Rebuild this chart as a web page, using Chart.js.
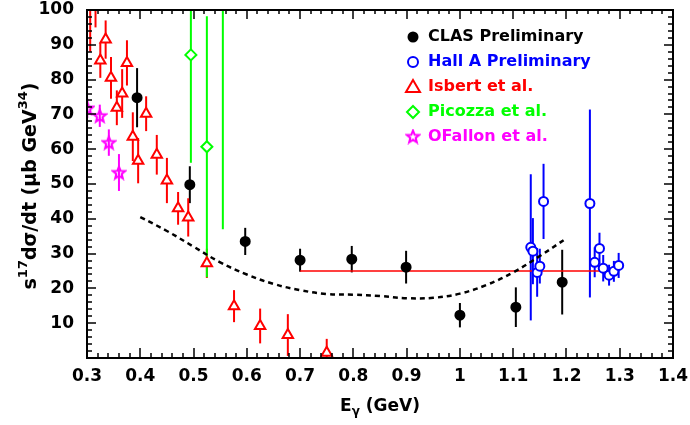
<!DOCTYPE html>
<html>
<head>
<meta charset="utf-8">
<script src="https://cdn.jsdelivr.net/npm/chart.js@4"></script>
<style>
  html, body { margin: 0; padding: 0; background: #fff; }
  #wrap { width: 690px; height: 425px; position: relative; }
</style>
</head>
<body>
<div id="wrap"><canvas id="chart"></canvas></div>
<script>
// values
const clasE = [0.394, 0.493, 0.597, 0.700, 0.797, 0.899, 1.000, 1.105, 1.192];
const clasY = [74.8, 49.8, 33.5, 28.1, 28.4, 26.1, 12.3, 14.6, 21.8];
const clasErr = [8.5, 5.3, 3.9, 3.3, 3.8, 4.7, 3.5, 5.7, 9.3];

const hallE = [1.133, 1.137, 1.145, 1.150, 1.157, 1.244, 1.253, 1.262, 1.269, 1.280, 1.289, 1.298];
const hallY = [31.8, 30.7, 24.6, 26.4, 45.0, 44.4, 27.5, 31.5, 25.8, 23.8, 24.9, 26.6];
const hallErr = [21, 9.5, 7, 5, 10.8, 27, 4.3, 4.5, 3.8, 3, 3, 3.6];

const isbE = [0.306, 0.316, 0.325, 0.335, 0.345, 0.356, 0.366, 0.375, 0.386, 0.396, 0.411, 0.431, 0.450, 0.471, 0.490, 0.525, 0.576, 0.625, 0.677, 0.750];
const isbY = [104, 108, 85.5, 91.5, 80.5, 71.9, 76, 84.8, 63.6, 56.7, 70.2, 58.4, 51, 43, 40.4, 27.2, 14.9, 9.2, 6.6, 1.5];
const isbErr = [16, 13, 5, 5.5, 6, 5, 7, 6.5, 7, 6.5, 5, 5.7, 6.5, 4.7, 5.5, 4.2, 4.6, 5, 6, 4];

const picE = [0.495, 0.525, 0.555];
const picY = [87.1, 60.7, 112];
const picErr = [31, 37.5, 75];

const ofaE = [0.3005, 0.324, 0.341, 0.360];
const ofaY = [71.8, 69.6, 61.9, 53.3];
const ofaErr = [2.8, 3.2, 3.8, 5.3];

const curveE = [0.40, 0.45, 0.50, 0.55, 0.60, 0.65, 0.70, 0.75, 0.80, 0.85, 0.90, 0.95, 1.00, 1.05, 1.10, 1.15, 1.20];
const curveY = [40.5, 36.5, 32, 27.5, 24, 21.3, 19.5, 18.4, 18.2, 17.8, 17.2, 17.3, 18.5, 21, 24.6, 29.3, 34.4];

const fitE = [0.70, 1.29];
const fitY = [25, 25];

const xMin = 0.3, xMax = 1.4, xStep = 0.1, xMinor = 0.02;
const yMin = 0, yMax = 100, yStep = 10, yMinor = 2;

const FONT = '"DejaVu Sans", sans-serif';
const pts = (xs, ys) => xs.map((x, i) => ({ x, y: ys[i] }));

// 5-point star marker
function makeStar(color) {
  const c = document.createElement('canvas');
  c.width = 16; c.height = 16;
  const g = c.getContext('2d');
  g.strokeStyle = color; g.lineWidth = 2; g.lineJoin = 'miter';
  g.beginPath();
  for (let k = 0; k < 10; k++) {
    const r = k % 2 === 0 ? 6.5 : 2.8;
    const a = -Math.PI / 2 + k * Math.PI / 5;
    const px = 8 + r * Math.cos(a), py = 8.5 + r * Math.sin(a);
    k === 0 ? g.moveTo(px, py) : g.lineTo(px, py);
  }
  g.closePath(); g.stroke();
  return c;
}
const starImg = makeStar('#ff00ff');

const errBars = {
  id: 'errBars',
  beforeDatasetsDraw(chart) {
    const { ctx, chartArea: a, scales: { x, y } } = chart;
    ctx.save();
    ctx.beginPath(); ctx.rect(a.left, a.top, a.right - a.left, a.bottom - a.top); ctx.clip();
    chart.data.datasets.forEach(ds => {
      if (!ds.err) return;
      ctx.strokeStyle = ds.borderColor; ctx.lineWidth = 2;
      ds.data.forEach((p, i) => {
        const px = x.getPixelForValue(p.x);
        ctx.beginPath();
        ctx.moveTo(px, y.getPixelForValue(p.y - ds.err[i]));
        ctx.lineTo(px, y.getPixelForValue(p.y + ds.err[i]));
        ctx.stroke();
      });
    });
    ctx.restore();
  }
};

function marker(ctx, kind, cx, cy, color) {
  ctx.save();
  ctx.strokeStyle = color; ctx.fillStyle = color; ctx.lineWidth = 2;
  ctx.beginPath();
  if (kind === 'dot') { ctx.arc(cx, cy, 5.5, 0, Math.PI * 2); ctx.fill(); }
  else if (kind === 'ring') { ctx.arc(cx, cy, 5, 0, Math.PI * 2); ctx.stroke(); }
  else if (kind === 'tri') { ctx.moveTo(cx, cy - 7); ctx.lineTo(cx + 7, cy + 5); ctx.lineTo(cx - 7, cy + 5); ctx.closePath(); ctx.stroke(); }
  else if (kind === 'dia') { ctx.moveTo(cx, cy - 6); ctx.lineTo(cx + 6, cy); ctx.lineTo(cx, cy + 6); ctx.lineTo(cx - 6, cy); ctx.closePath(); ctx.stroke(); }
  else if (kind === 'star') { ctx.drawImage(starImg, cx - 8, cy - 8.5); }
  ctx.restore();
}

function drawParts(ctx, parts, cx, base) {
  let w = 0;
  parts.forEach(p => { ctx.font = p[1]; w += ctx.measureText(p[0]).width; });
  let px = cx - w / 2;
  parts.forEach(p => {
    ctx.font = p[1];
    ctx.fillText(p[0], px, base + p[2]);
    px += ctx.measureText(p[0]).width;
  });
}

const frameAndLegend = {
  id: 'frameAndLegend',
  afterDraw(chart) {
    const { ctx, chartArea: a, scales: { x, y } } = chart;
    ctx.save();
    ctx.fillStyle = '#000000';
    // minor/major ticks on all four sides, pointing inwards
    const nx = Math.round((xMax - xMin) / xMinor);
    for (let i = 0; i <= nx; i++) {
      const px = Math.round(x.getPixelForValue(xMin + i * xMinor));
      const len = i % 5 === 0 ? 10 : 5;
      ctx.fillRect(px - 0.75, a.bottom - len, 1.5, len);
      ctx.fillRect(px - 0.75, a.top, 1.5, len - 1);
    }
    const ny = Math.round((yMax - yMin) / yMinor);
    for (let i = 0; i <= ny; i++) {
      const py = Math.round(y.getPixelForValue(yMin + i * yMinor));
      const len = i % 5 === 0 ? 9 : 5;
      ctx.fillRect(a.left, py - 0.75, len, 1.5);
      ctx.fillRect(a.right - len, py - 0.75, len, 1.5);
    }
    ctx.strokeStyle = '#000000';
    ctx.lineWidth = 2;
    ctx.setLineDash([]);
    ctx.strokeRect(a.left, a.top, a.right - a.left, a.bottom - a.top);

    // legend
    ctx.font = 'bold 16px ' + FONT;
    ctx.textBaseline = 'middle'; ctx.textAlign = 'left';
    chart.data.datasets.filter(d => d.legendKind).forEach((d, i) => {
      const ly = 37 + i * 25;
      marker(ctx, d.legendKind, 413, ly, d.borderColor);
      ctx.fillStyle = d.borderColor;
      ctx.fillText(d.label, 428, ly);
    });

    // axis titles
    ctx.fillStyle = '#000';
    ctx.textBaseline = 'alphabetic';
    const mainF = 'bold 17px ' + FONT;
    drawParts(ctx, [['E', mainF, 0], ['γ', 'bold 12px ' + FONT, 4], [' (GeV)', mainF, 0]], 380, 411);
    ctx.translate(36, 186); ctx.rotate(-Math.PI / 2);
    const yF = 'bold 19px ' + FONT, supF = 'bold 13px ' + FONT;
    drawParts(ctx, [['s', yF, 0], ['17', supF, -9], ['dσ/dt (μb GeV', yF, 0], ['34', supF, -9], [')', yF, 0]], 0, 0);
    ctx.restore();
  }
};

const ptBase = { showLine: false, clip: 0, pointBorderWidth: 2, order: 1 };

new Chart(document.getElementById('chart'), {
  type: 'scatter',
  data: {
    datasets: [
      { ...ptBase, label: 'CLAS Preliminary', legendKind: 'dot', data: pts(clasE, clasY), err: clasErr,
        borderColor: '#000000', backgroundColor: '#000000', pointStyle: 'circle', pointRadius: 4.5 },
      { ...ptBase, label: 'Hall A Preliminary', legendKind: 'ring', data: pts(hallE, hallY), err: hallErr,
        borderColor: '#0000ff', backgroundColor: '#ffffff', pointStyle: 'circle', pointRadius: 4.5 },
      { ...ptBase, label: 'Isbert et al.', legendKind: 'tri', data: pts(isbE, isbY), err: isbErr,
        borderColor: '#ff0000', backgroundColor: '#ffffff', pointStyle: 'triangle', pointRadius: 6 },
      { ...ptBase, label: 'Picozza et al.', legendKind: 'dia', data: pts(picE, picY), err: picErr,
        borderColor: '#00ff00', backgroundColor: '#ffffff', pointStyle: 'rectRot', pointRadius: 5.5 },
      { ...ptBase, label: 'OFallon et al.', legendKind: 'star', data: pts(ofaE, ofaY), err: ofaErr,
        borderColor: '#ff00ff', backgroundColor: '#ff00ff', pointStyle: starImg, pointRadius: 8 },
      { label: 'model', data: pts(curveE, curveY), showLine: true, borderColor: '#000000', borderWidth: 2.5,
        borderDash: [5, 4], pointRadius: 0, tension: 0.4, order: 2 },
      { label: 'fit', data: pts(fitE, fitY), showLine: true, borderColor: '#ff0000', borderWidth: 1.5,
        pointRadius: 0, order: 2 }
    ]
  },
  options: {
    responsive: true, maintainAspectRatio: false, animation: false,
    layout: { padding: { left: 0, right: 17, top: 9, bottom: 0 } },
    plugins: { legend: { display: false }, tooltip: { enabled: false } },
    scales: {
      x: {
        type: 'linear', min: xMin, max: xMax,
        grid: { display: false, drawTicks: false }, border: { display: false },
        afterFit: s => { s.height = 67; s.paddingLeft = 0; s.paddingRight = 0; },
        ticks: { stepSize: xStep, padding: 8, color: '#000', maxRotation: 0, autoSkip: false,
          font: { family: FONT, size: 17, weight: 'bold' },
          callback: v => String(+v.toFixed(1)) }
      },
      y: {
        min: yMin, max: yMax,
        grid: { display: false, drawTicks: false }, border: { display: false },
        afterFit: s => { s.width = 87; s.paddingTop = 0; s.paddingBottom = 0; },
        ticks: { stepSize: yStep, padding: 13, color: '#000',
          font: { family: FONT, size: 17, weight: 'bold' },
          callback: v => v === 0 ? '' : String(v) }
      }
    }
  },
  plugins: [errBars, frameAndLegend]
});
</script>
</body>
</html>
